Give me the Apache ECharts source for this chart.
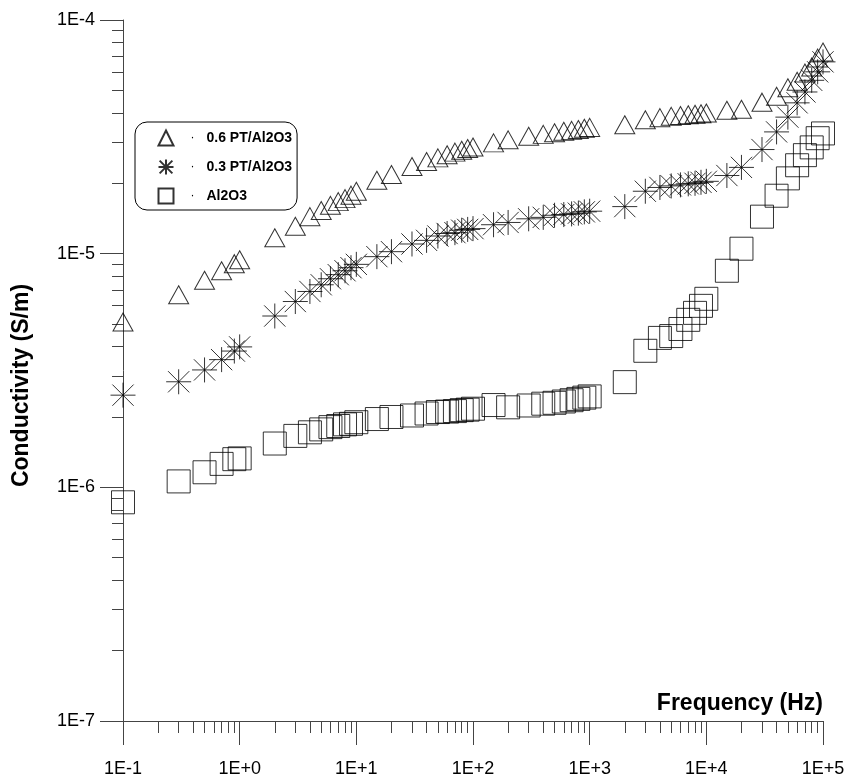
<!DOCTYPE html>
<html><head><meta charset="utf-8">
<script src="https://cdn.jsdelivr.net/npm/echarts@6/dist/echarts.min.js"></script>
<style>html,body{margin:0;padding:0;background:#fff}#c{width:855px;height:780px}</style>
</head><body><div id="c"></div>
<script>
const freqHz = [0.1,0.3,0.5,0.7,0.9,1,2,3,4,5,6,7,8,9,10,15,20,30,40,50,60,70,80,90,100,150,200,300,400,500,600,700,800,900,1000,2000,3000,4000,5000,6000,7000,8000,9000,10000,15000,20000,30000,40000,50000,60000,70000,80000,90000,100000];
const sigma06PT = [5.1e-6,6.67e-6,7.69e-6,8.45e-6,9.06e-6,9.42e-6,1.17e-5,1.31e-5,1.44e-5,1.53e-5,1.61e-5,1.67e-5,1.72e-5,1.78e-5,1.85e-5,2.06e-5,2.18e-5,2.36e-5,2.48e-5,2.57e-5,2.65e-5,2.72e-5,2.77e-5,2.82e-5,2.86e-5,2.98e-5,3.07e-5,3.18e-5,3.24e-5,3.29e-5,3.34e-5,3.37e-5,3.40e-5,3.44e-5,3.47e-5,3.56e-5,3.74e-5,3.82e-5,3.87e-5,3.90e-5,3.93e-5,3.95e-5,3.97e-5,4.0e-5,4.11e-5,4.15e-5,4.45e-5,4.72e-5,5.13e-5,5.47e-5,5.93e-5,6.29e-5,6.87e-5,7.29e-5];
const sigma03PT = [2.48e-6,2.83e-6,3.18e-6,3.52e-6,3.83e-6,3.99e-6,5.41e-6,6.24e-6,6.89e-6,7.36e-6,7.81e-6,8.13e-6,8.45e-6,8.71e-6,9.0e-6,9.71e-6,1.02e-5,1.10e-5,1.14e-5,1.19e-5,1.22e-5,1.23e-5,1.26e-5,1.27e-5,1.28e-5,1.33e-5,1.36e-5,1.41e-5,1.43e-5,1.46e-5,1.47e-5,1.48e-5,1.49e-5,1.51e-5,1.52e-5,1.59e-5,1.85e-5,1.92e-5,1.95e-5,1.97e-5,1.99e-5,2.0e-5,2.02e-5,2.04e-5,2.16e-5,2.34e-5,2.79e-5,3.32e-5,3.84e-5,4.42e-5,4.92e-5,5.52e-5,6.0e-5,6.62e-5];
const sigmaAl2O3 = [8.63e-7,1.06e-6,1.16e-6,1.26e-6,1.32e-6,1.33e-6,1.54e-6,1.66e-6,1.72e-6,1.77e-6,1.81e-6,1.83e-6,1.86e-6,1.87e-6,1.90e-6,1.96e-6,2.0e-6,2.03e-6,2.07e-6,2.10e-6,2.11e-6,2.12e-6,2.14e-6,2.15e-6,2.17e-6,2.25e-6,2.2e-6,2.24e-6,2.28e-6,2.30e-6,2.33e-6,2.36e-6,2.39e-6,2.42e-6,2.45e-6,2.82e-6,3.84e-6,4.36e-6,4.44e-6,4.76e-6,5.21e-6,5.58e-6,5.98e-6,6.41e-6,8.45e-6,1.05e-5,1.44e-5,1.77e-5,2.10e-5,2.39e-5,2.64e-5,2.85e-5,3.12e-5,3.27e-5];
const seriesNames = ['0.6 PT/Al2O3', '0.3 PT/Al2O3', 'Al2O3'];
const xTickLabels = ['1E-1','1E+0','1E+1','1E+2','1E+3','1E+4','1E+5'];
const yTickLabels = ['1E-7','1E-6','1E-5','1E-4'];
const minorSteps = [2,3,4,5,6,7,8,9];
const xDecades = [-1,0,1,2,3,4];
const yDecades = [-7,-6,-5];
const xAxisName = 'Frequency (Hz)';
const yAxisName = 'Conductivity (S/m)';

const FONT = '"Liberation Sans", Arial, sans-serif';
const AX = '#444';
const xMinor = xDecades.flatMap(d => minorSteps.map(k => d + Math.log10(k)));
const yMinor = yDecades.flatMap(d => minorSteps.map(k => d + Math.log10(k)));
const pairs = arr => freqHz.map((f, i) => [f, arr[i]]);
const starPath = 'path://M0,-1L0,1M-1,0L1,0M-0.85,-0.85L0.85,0.85M-0.85,0.85L0.85,-0.85';
const mk = { color: 'none', borderColor: '#000', borderWidth: 1 };

const chart = echarts.init(document.getElementById('c'), null, { renderer: 'canvas' });
chart.setOption({
  backgroundColor: '#fff',
  animation: false,
  textStyle: { fontFamily: FONT },
  grid: { left: 123, right: 32, top: 20, bottom: 59, containLabel: false },
  legend: {
    orient: 'vertical', left: 135, top: 122,
    data: seriesNames,
    itemWidth: 15, itemHeight: 15, itemGap: 9,
    padding: [6, 5, 4, 21],
    borderColor: '#000', borderWidth: 1, borderRadius: 12,
    selectedMode: false,
    formatter: n => '{d|·}{t|' + n + '}',
    textStyle: {
      rich: {
        d: { width: 28, align: 'center', fontSize: 12, color: '#000', fontFamily: FONT },
        t: { fontSize: 14, fontWeight: 'bold', color: '#000', fontFamily: FONT }
      }
    }
  },
  xAxis: [{
    type: 'log', logBase: 10, min: 0.1, max: 100000,
    position: 'bottom',
    name: xAxisName, nameLocation: 'end', nameGap: 0,
    nameTextStyle: { fontSize: 23, fontWeight: 'bold', color: '#000', align: 'right', verticalAlign: 'bottom', padding: [0, 0, 6, 0], fontFamily: FONT },
    axisLine: { onZero: false, lineStyle: { color: AX, width: 1 } },
    axisTick: { length: 24, lineStyle: { color: AX } },
    axisLabel: { margin: 39, fontSize: 18, color: '#000', fontFamily: FONT,
      formatter: v => xTickLabels[Math.round(Math.log10(v)) + 1] },
    splitLine: { show: false }
  }, {
    type: 'value', min: -1, max: 5, position: 'bottom',
    axisLine: { show: false, onZero: false },
    axisLabel: { show: false },
    splitLine: { show: false },
    axisTick: { show: true, length: 12, customValues: xMinor, lineStyle: { color: AX } }
  }],
  yAxis: [{
    type: 'log', logBase: 10, min: 1e-7, max: 1e-4,
    position: 'left',
    name: yAxisName, nameLocation: 'middle', nameGap: 90,
    nameTextStyle: { fontSize: 23, fontWeight: 'bold', color: '#000', padding: [0, 30, 0, 0], fontFamily: FONT },
    axisLine: { onZero: false, lineStyle: { color: AX, width: 1 } },
    axisTick: { length: 23, lineStyle: { color: AX } },
    axisLabel: { margin: 28, fontSize: 18, color: '#000', fontFamily: FONT,
      formatter: v => yTickLabels[Math.round(Math.log10(v)) + 7] },
    splitLine: { show: false }
  }, {
    type: 'value', min: -7, max: -4, position: 'left',
    axisLine: { show: false, onZero: false },
    axisLabel: { show: false },
    splitLine: { show: false },
    axisTick: { show: true, length: 11, customValues: yMinor, lineStyle: { color: AX } }
  }],
  series: [
    { name: seriesNames[2], type: 'scatter', xAxisIndex: 0, yAxisIndex: 0, data: pairs(sigmaAl2O3),
      symbol: 'rect', symbolSize: 23, itemStyle: mk, emphasis: { disabled: true } },
    { name: seriesNames[1], type: 'scatter', xAxisIndex: 0, yAxisIndex: 0, data: pairs(sigma03PT),
      symbol: starPath, symbolSize: 25, itemStyle: mk, emphasis: { disabled: true } },
    { name: seriesNames[0], type: 'scatter', xAxisIndex: 0, yAxisIndex: 0, data: pairs(sigma06PT),
      symbol: 'triangle', symbolSize: [20, 18], itemStyle: mk, emphasis: { disabled: true } }
  ]
});
</script></body></html>
